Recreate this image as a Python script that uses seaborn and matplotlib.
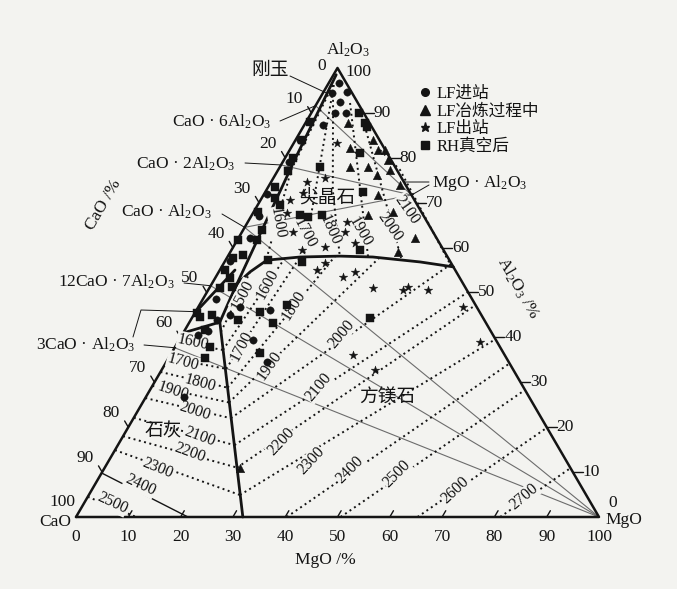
import numpy as np
import pandas as pd
import matplotlib
matplotlib.use("Agg")
import matplotlib.pyplot as plt
from matplotlib.lines import Line2D
import seaborn as sns

# ==============================
# 1. 数据：夹杂物成分 (MgO %, Al2O3 %)
# ==============================
lf_in_mgo = [1.9, 4.5, 4.3, 1.7, 6.6, 4.5, 3.6, 2.2, 6.9, 8.0, 14.0, 14.1, 19.3, 7.3, 5.0,
             0.8, 1.2, 0.6, 1.5, 1.0, 2.5, 3.0, 4.5]
lf_in_al = [96.7, 94.7, 92.4, 94.4, 90.0, 90.0, 87.3, 62.1, 45.0, 46.8, 46.1, 39.4, 34.5, 26.7, 43.9,
            84.0, 79.0, 72.0, 67.0, 57.0, 48.5, 40.5, 41.5]

lf_mid_mgo = [8.1, 11.3, 14.8, 16.9, 16.8, 13.4, 19.5, 19.9, 21.9, 22.2, 26.7, 33.8, 32.1, 18.2, 21.4, 25.0, 25.9]
lf_mid_al = [87.8, 82.2, 84.0, 81.7, 78.0, 78.0, 76.2, 79.5, 71.7, 67.3, 67.9, 62.1, 59.0, 81.7, 77.3, 73.9, 10.9]

lf_out_mgo = [8.3, 9.9, 6.9, 5.6, 7.3, 6.5, 9.8, 13.5, 17.6, 19.0, 19.7, 22.8, 18.6, 19.3, 24.3, 26.0,
              31.3, 37.2, 37.9, 42.0, 50.6, 57.7, 35.0, 40.9]
lf_out_al = [83.3, 75.5, 74.6, 70.6, 72.2, 67.7, 63.5, 59.5, 60.1, 65.7, 63.5, 61.0, 55.0, 56.6, 53.5, 54.6,
             51.0, 50.6, 51.2, 50.6, 46.8, 39.0, 36.1, 32.7]

rh_mgo = [9.1, 11.4, 13.8, 7.7, 12.2, 18.7, 11.0, 13.4, 24.6, 14.8, 4.3, 9.2, 8.1, 16.7, 12.4, 16.1, 34.0,
          17.0, 9.1, 6.6, 7.0,
          0.8, 1.2, 1.5, 2.0, 1.3, 2.5, 0.9, 3.7, 3.8, 0.2, 2.7, 1.2, 1.0, 2.9, 2.0, 4.2, 1.5, 3.5, 3.9, 0.5]
rh_al = [90.0, 87.8, 81.1, 78.0, 86.9, 72.4, 66.8, 67.3, 59.5, 56.8, 69.5, 67.3, 57.2, 47.2, 45.7, 43.2, 44.4,
         36.5, 43.9, 37.9, 35.4,
         88.0, 84.0, 80.0, 77.0, 73.5, 71.0, 67.9, 63.9, 61.7, 61.7, 58.4, 57.7, 55.0, 53.2, 51.0, 51.2, 44.5,
         45.0, 41.6, 45.4]

groups = ["LF进站", "LF冶炼过程中", "LF出站", "RH真空后"]

# 相界线 (MgO %, Al2O3 %)
spinel_periclase_mgo = [5.0, 4.9, 6.0, 7.9, 13.9, 21.4, 27.8, 37.4, 44.3]
spinel_periclase_al = [50.1, 52.1, 54.6, 57.2, 57.9, 58.1, 57.9, 56.8, 55.7]
inner_mgo = [0.5, 2.0, 3.5, 5.0, 5.8]
inner_al = [98.5, 80.0, 65.0, 50.1, 43.4]
lime_periclase_mgo = [5.8, 31.9]
lime_periclase_al = [43.4, 0.0]
lime_c3a_mgo = [0.0, 5.8]
lime_c3a_al = [41.0, 43.4]
c12a7_mgo = [0.0, 2.9]
c12a7_al = [45.4, 55.0]

# 化合物成分点 (Al2O3 % on CaO-Al2O3 side)
ca6_al, ca2_al, ca_al, c12a7_al_pt, c3a_al = 91.6, 78.4, 64.5, 51.5, 37.7
ma_mgo, ma_al = 28.3, 71.7

# 等温线 (°C)
spinel_T = [1600, 1700, 1800, 1900, 2000, 2100]
spinel_iso_mgo = [[1.0, 2.5, 7.8], [1.2, 14.6], [2.7, 12.7, 21.5], [6.3, 26.9], [9.9, 33.3], [17.3, 23.3, 43.3]]
spinel_iso_al = [[96.2, 77.3, 57.0], [96.2, 57.9], [92.9, 72.8, 57.9], [92.2, 57.9], [89.5, 57.7], [81.7, 77.3, 56.4]]

per_T = [1500, 1600, 1700, 1800, 1900, 2000, 2100, 2200, 2300, 2400, 2500, 2600, 2700]
per_iso_mgo = [[7.1, 6.0], [9.5, 11.1], [12.2, 13.9], [14.6, 20.5], [16.5, 29.2], [18.6, 43.6], [22.3, 49.9],
               [25.3, 52.8], [28.9, 60.4], [40.3, 65.8], [50.6, 71.7], [65.3, 80.1], [81.1, 89.1]]
per_iso_al = [[41.2, 54.6], [37.2, 57.7], [33.0, 57.9], [28.8, 58.1], [25.5, 57.9], [22.0, 56.4], [16.0, 50.1],
              [11.0, 47.2], [4.9, 39.6], [0.0, 34.2], [0.0, 28.3], [0.0, 19.9], [0.0, 10.9]]

lime_T = [1600, 1700, 1800, 1900, 2000, 2100, 2200, 2300, 2400, 2500]
lime_iso_mgo = [[0, 9.5], [0, 12.2], [0, 14.6], [0, 16.5], [0, 18.6], [0, 22.3], [0, 25.3], [0, 28.9],
                [0, 21.4], [0, 11.5]]
lime_iso_al = [[39.0, 37.2], [35.4, 33.0], [32.3, 28.8], [29.2, 25.5], [26.5, 22.0], [22.1, 16.0],
               [18.0, 11.0], [14.9, 4.9], [9.8, 0.0], [4.5, 0.0]]

ticks = list(range(0, 101, 10))

# ==============================
# 2. 坐标换算
# ==============================
def tern(mgo, al):
    mgo = np.asarray(mgo, float)
    al = np.asarray(al, float)
    return mgo + al / 2, al * np.sqrt(3) / 2


def pix(x, y):
    # 版面位置（像素）-> 坐标
    return (x - 76) / 5.23, (517 - y) / 5.185


BG = "#f3f3f0"
INK = "#141414"
GREY = "#6c6c6c"

sns.set_theme(style="white")
plt.rcParams["font.family"] = ["Liberation Serif", "Noto Sans CJK SC"]
plt.rcParams["mathtext.fontset"] = "custom"
plt.rcParams["mathtext.rm"] = "Liberation Serif"
plt.rcParams["mathtext.it"] = "Liberation Serif:italic"
plt.rcParams["text.color"] = INK

fig = plt.figure(figsize=(6.77, 5.89), dpi=100, facecolor=BG)
ax = fig.add_axes([0, 0, 1, 1])
ax.set_facecolor(BG)
ax.set_xlim(-76 / 5.23, 601 / 5.23)
ax.set_ylim(-72 / 5.185, 517 / 5.185)
ax.axis("off")


def tline(mgo, al, **kw):
    x, y = tern(mgo, al)
    ax.plot(x, y, **kw)


dot = dict(color=INK, lw=1.4, ls=(0, (1, 1.8)), zorder=2)
thick = dict(color=INK, lw=2.0, zorder=3, solid_capstyle="round")
thin = dict(color=GREY, lw=0.8, zorder=1)

# 三角形
tline([0, 100, 0, 0], [0, 0, 100, 0], color=INK, lw=1.8, zorder=3)

# 连接线
for al in [ca_al, c12a7_al_pt, c3a_al]:
    tline([100, 0], [0, al], **thin)
for al in [ca_al, ca2_al, ca6_al]:
    tline([ma_mgo, 0], [ma_al, al], **thin)

# 相界
tline(spinel_periclase_mgo, spinel_periclase_al, **thick)
tline(inner_mgo, inner_al, **thick)
tline(lime_periclase_mgo, lime_periclase_al, **thick)
tline(lime_c3a_mgo, lime_c3a_al, **thick)
tline(c12a7_mgo, c12a7_al, **thick)

# 等温线
for m, a in zip(spinel_iso_mgo, spinel_iso_al):
    tline(m, a, **dot)
for m, a in zip(per_iso_mgo, per_iso_al):
    tline(m, a, **dot)
for T, m, a in zip(lime_T, lime_iso_mgo, lime_iso_al):
    if T == 2400:
        tline(m, a, color=INK, lw=1.0, zorder=2)
    else:
        tline(m, a, **dot)

iso_font = dict(fontsize=11.5, ha="center", va="center", zorder=4,
                bbox=dict(fc=BG, ec="none", pad=0.4))
spinel_lbl = [(277, 223, -80), (305, 233, -62), (330, 230, -66), (360, 232, -60), (390, 227, -55), (407, 210, -55)]
per_lbl = [(243, 295, 62), (268, 284, 62), (242, 346, 62), (294, 305, 58), (270, 366, 55), (341, 334, 50),
           (318, 387, 50), (281, 442, 47), (311, 461, 47), (350, 470, 45), (397, 474, 45), (455, 490, 43),
           (524, 497, 40)]
lime_lbl = [(193, 342, -12), (183, 362, -15), (200, 383, -15), (173, 391, -18), (195, 411, -18),
            (200, 437, -20), (190, 453, -20), (158, 468, -22), (140, 485, -25), (112, 503, -25)]
for Ts, lbls in [(spinel_T, spinel_lbl), (per_T, per_lbl), (lime_T, lime_lbl)]:
    for T, (px, py, r) in zip(Ts, lbls):
        ax.text(*pix(px, py), str(T), rotation=r, **iso_font)

# ==============================
# 3. 散点
# ==============================
rows = []
for g, ms, als in zip(groups, [lf_in_mgo, lf_mid_mgo, lf_out_mgo, rh_mgo],
                      [lf_in_al, lf_mid_al, lf_out_al, rh_al]):
    x, y = tern(ms, als)
    rows.append(pd.DataFrame({"x": x, "y": y, "组": g}))
df = pd.concat(rows, ignore_index=True)

marker_map = {"LF进站": "o", "LF冶炼过程中": "^", "LF出站": "*", "RH真空后": "s"}
size_map = {"LF进站": 28, "LF冶炼过程中": 38, "LF出站": 42, "RH真空后": 30}
for g in groups:
    sns.scatterplot(data=df[df["组"] == g], x="x", y="y", marker=marker_map[g], s=size_map[g],
                    color=INK, edgecolor=INK, linewidth=0.3, legend=False, ax=ax, zorder=5)

handles = [Line2D([], [], ls="", marker=marker_map[g], color=INK,
                  markersize={"o": 5.5, "^": 6.5, "*": 6.5, "s": 5.5}[marker_map[g]], label=g)
           for g in groups]
ax.legend(handles=handles, loc="upper left", bbox_to_anchor=(419 / 677, 1 - 86 / 589),
          bbox_transform=fig.transFigure, frameon=False, fontsize=12, handlelength=0.7,
          handletextpad=0.35, labelspacing=0.1, borderpad=0, borderaxespad=0)

# ==============================
# 4. 刻度
# ==============================
for v in ticks[1:-1]:
    tline([v, v], [0, 1.4], color=INK, lw=1.0)
    x0, y0 = tern(100 - v, v)
    ax.plot([x0, x0 + 1.9], [y0, y0], color=INK, lw=1.0)
    x1, y1 = tern(0, 100 - v)
    ax.plot([x1, x1 - 0.7], [y1, y1 + 1.2], color=INK, lw=1.0)

tick_font = dict(fontsize=12.5, va="center")
for v in ticks:
    ax.text(v, pix(0, 537)[1], str(v), ha="center", **tick_font)
    if v == 0:
        ax.text(*pix(613, 503), "0", ha="center", **tick_font)
        ax.text(*pix(322, 66), "0", ha="center", **tick_font)
        continue
    x0, y0 = tern(100 - v, v)
    if v == 100:
        ax.text(x0 + 1.6, y0 - 0.8, str(v), ha="left", **tick_font)
        continue
    ax.text(x0 + 1.9, y0, str(v), ha="left", **tick_font)
    x1, y1 = tern(0, 100 - v)
    ax.text(x1 - 17 / 5.23, y1 + 14 / 5.185, str(v), ha="center", **tick_font)
ax.text(*pix(62, 502), "100", ha="center", **tick_font)

# ==============================
# 5. 文字与引线
# ==============================
lab = dict(fontsize=12.5, ha="center", va="center")
ax.text(*pix(348, 50), "Al$_2$O$_3$", **lab)
ax.text(*pix(624, 520), "MgO", **lab)
ax.text(*pix(55, 522), "CaO", **lab)
ax.text(*pix(325, 560), "MgO /%", **lab)
ax.text(*pix(104, 205), "CaO /%", rotation=60, **lab)
ax.text(*pix(518, 288), "Al$_2$O$_3$ /%", rotation=-60, **lab)

field = dict(fontsize=13.5, ha="center", va="center", zorder=4)
ax.text(*pix(270, 70), "刚玉", **field)
ax.text(*pix(327, 198), "尖晶石", **field)
ax.text(*pix(387, 397), "方镁石", **field)
ax.text(*pix(163, 432), "石灰", **field)

leader = dict(arrowprops=dict(arrowstyle="-", color=INK, lw=0.7, shrinkA=0, shrinkB=0))
ax.annotate("", xy=tern(0.5, 94.5), xytext=pix(290, 76), **leader)

comp = [("CaO · 6Al$_2$O$_3$", (222, 122), (280, 121), ca6_al),
        ("CaO · 2Al$_2$O$_3$", (186, 164), (245, 163), ca2_al),
        ("CaO · Al$_2$O$_3$", (166, 212), (222, 214), ca_al),
        ("12CaO · 7Al$_2$O$_3$", (116, 282), (184, 283), c12a7_al_pt),
        ("3CaO · Al$_2$O$_3$", (86, 345), (144, 345), c3a_al)]
for txt, (tx, ty), (lx, ly), al in comp:
    ax.text(*pix(tx, ty), txt, fontsize=12.5, ha="center", va="center")
    ax.annotate("", xy=tern(0, al), xytext=pix(lx, ly), **leader)

bx, by = zip(pix(133, 337), pix(141, 310))
ax.plot(list(bx) + [tern(0.8, 45.7)[0]], list(by) + [tern(0.8, 45.7)[1]], color=INK, lw=0.7)

ax.text(*pix(480, 183), "MgO · Al$_2$O$_3$", fontsize=12.5, ha="center", va="center")
ax.annotate("", xy=tern(25.4, 74.6), xytext=pix(429, 182), **leader)
ax.annotate("", xy=tern(ma_mgo, ma_al), xytext=pix(429, 185), **leader)

fig.savefig("out.png", dpi=100, facecolor=BG)
